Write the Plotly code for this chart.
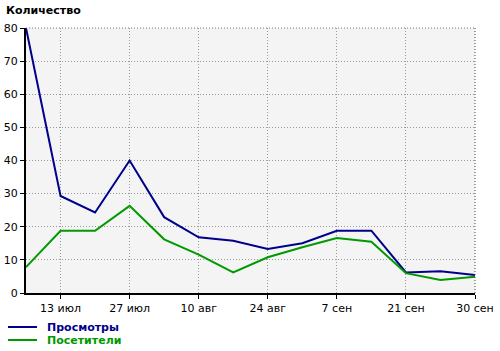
import plotly.graph_objects as go

x_idx = list(range(14))
tick_pos = [1, 3, 5, 7, 9, 11, 13]
tick_text = ["13 июл", "27 июл", "10 авг", "24 авг", "7 сен", "21 сен", "30 сен"]
views = [80, 29.3, 24.3, 40, 22.9, 16.8, 15.8, 13.3, 15, 18.8, 18.8, 6.2, 6.6, 5.4]
visitors = [7.8, 18.8, 18.8, 26.3, 16.2, 11.6, 6.2, 10.8, 13.8, 16.6, 15.5, 6.0, 3.9, 4.9]
series_names = ["Просмотры", "Посетители"]

BLUE = "#00008B"
GREEN = "#009900"
FONT = "DejaVu Sans"
W, H = 500, 351
L, R, T, B = 26, 25, 28, 58
PW, PH = W - L - R, H - T - B


def px(x):
    return (x - L) / PW


def py(y):
    return (H - B - y) / PH


fig = go.Figure()
fig.add_trace(go.Scatter(x=x_idx, y=views, mode="lines", name=series_names[0],
                         line=dict(color=BLUE, width=2), showlegend=False))
fig.add_trace(go.Scatter(x=x_idx, y=visitors, mode="lines", name=series_names[1],
                         line=dict(color=GREEN, width=2), showlegend=False))

annotations = [dict(text="<b>Количество</b>", xref="paper", yref="paper",
                    x=px(4), y=py(10), xanchor="left", yanchor="middle",
                    showarrow=False, font=dict(family=FONT, size=11, color="black"))]
shapes = []
for name, col, yy in [(series_names[0], BLUE, 327), (series_names[1], GREEN, 340)]:
    shapes.append(dict(type="line", xref="paper", yref="paper",
                       x0=px(8), x1=px(37), y0=py(yy), y1=py(yy),
                       line=dict(color=col, width=2)))
    annotations.append(dict(text="<b>" + name + "</b>", xref="paper", yref="paper",
                            x=px(45), y=py(yy), xanchor="left", yanchor="middle",
                            showarrow=False, font=dict(family=FONT, size=11, color=col)))

shapes.append(dict(type="line", xref="paper", yref="paper", x0=1, x1=1, y0=0, y1=1,
                   line=dict(color="#444444", width=1, dash="1px,2px")))
shapes.append(dict(type="line", xref="paper", yref="paper", x0=0, x1=1, y0=1, y1=1,
                   line=dict(color="#777777", width=1, dash="1px,2px")))

fig.update_layout(
    width=W, height=H,
    margin=dict(l=L, r=R, t=T, b=B),
    paper_bgcolor="white",
    plot_bgcolor="#f4f4f4",
    font=dict(family=FONT, size=11, color="black"),
    showlegend=False,
    annotations=annotations,
    shapes=shapes,
)
fig.update_xaxes(range=[0, 13], tickmode="array", tickvals=tick_pos, ticktext=tick_text,
                 showline=True, linecolor="black", linewidth=2,
                 ticks="outside", ticklen=4, tickcolor="black",
                 showgrid=True, gridcolor="#999999", griddash="1px,2px", gridwidth=1,
                 zeroline=False, automargin=False)
fig.update_yaxes(range=[0, 80], tickmode="array", tickvals=list(range(0, 81, 10)),
                 showline=True, linecolor="black", linewidth=2,
                 ticks="outside", ticklen=4, tickcolor="black",
                 showgrid=True, gridcolor="#999999", griddash="1px,2px", gridwidth=1,
                 zeroline=False, automargin=False)

fig.write_html("out.html")
